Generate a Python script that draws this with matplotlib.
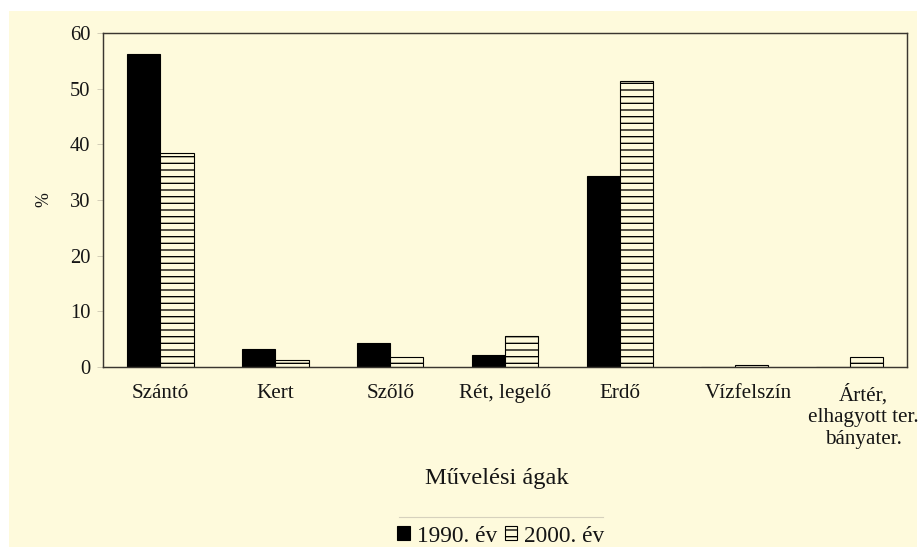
import numpy as np
import matplotlib
matplotlib.use('Agg')
from matplotlib import pyplot as plt
from matplotlib.patches import Rectangle
from matplotlib.lines import Line2D
import matplotlib.transforms as mtransforms

# chart data
categories = ['Szántó', 'Kert', 'Szőlő', 'Rét, legelő', 'Erdő', 'Vízfelszín',
              'Ártér,\nelhagyott ter.\nbányater.']
values_1990 = [56.2, 3.2, 4.4, 2.2, 34.3, 0.0, 0.0]
values_2000 = [38.5, 1.2, 1.8, 5.5, 51.4, 0.3, 1.8]
series_labels = ['1990. év', '2000. év']
y_ticks = [0, 10, 20, 30, 40, 50, 60]
x_title = 'Művelési ágak'
y_title = '%'

CREAM = '#fefadc'
INK = '#151515'
DPI = 80  # 80 dpi gives hatch spacing close to the reference
W, H = 919, 548

plt.rcParams['font.family'] = ['Liberation Serif', 'DejaVu Serif']
plt.rcParams['hatch.linewidth'] = 1.2

fig = plt.figure(figsize=(W / DPI, H / DPI), dpi=DPI, facecolor='white')
# cream panel with a thin white margin around it
fig.patches.append(Rectangle((9 / W, 1 / H), 908 / W, 536 / H, transform=fig.transFigure,
                             facecolor=CREAM, edgecolor='none', zorder=-10))

ax = fig.add_axes([103 / W, 181 / H, 804 / W, 334 / H])
ax.set_facecolor('none')

x = np.arange(len(categories))
bw = 0.29
ax.bar(x - bw / 2, values_1990, bw, color='black', edgecolor='black', linewidth=1.0,
       label=series_labels[0])
ax.bar(x + bw / 2, values_2000, bw, color=CREAM, edgecolor='black', hatch='--', linewidth=1.0,
       label=series_labels[1])

ax.set_xlim(-0.5, len(categories) - 0.5)
ax.set_ylim(0, 60)
ax.set_yticks(y_ticks)
ax.set_xticks(x, categories)

ax.tick_params(axis='x', length=0, pad=15, labelsize=19, labelcolor=INK)
ax.tick_params(axis='y', length=5.4, width=0.8, color='#cfcab4', pad=6, labelsize=18.5, labelcolor=INK)

for sp in ax.spines.values():
    sp.set_color('#3a3630')
    sp.set_linewidth(1.3)

# the last two category labels sit a bit right of their groups in the original
for lbl in ax.get_xticklabels():
    lbl.set_linespacing(1.2)
for lbl in ax.get_xticklabels()[5:]:
    lbl.set_transform(lbl.get_transform() + mtransforms.ScaledTranslation(14 / DPI, 0, fig.dpi_scale_trans))

ax.set_ylabel(y_title, fontsize=16, color=INK, labelpad=16)
fig.text(497 / W, 1 - 484 / H, x_title, ha='center', va='baseline', fontsize=22, color=INK)

# legend with a thin rule above it
fig.add_artist(Line2D([399 / W, 603 / W], [1 - 517 / H] * 2, color='#d6d1bd', lw=1,
                      transform=fig.transFigure))
fig.legend(loc='center', bbox_to_anchor=(501 / W, 1 - 536 / H), ncol=2, frameon=False,
           fontsize=21, handlelength=0.55, handleheight=0.55, handletextpad=0.3,
           columnspacing=0.3, borderpad=0, labelcolor=INK)

fig.savefig('out.png', dpi=DPI, facecolor='white')
